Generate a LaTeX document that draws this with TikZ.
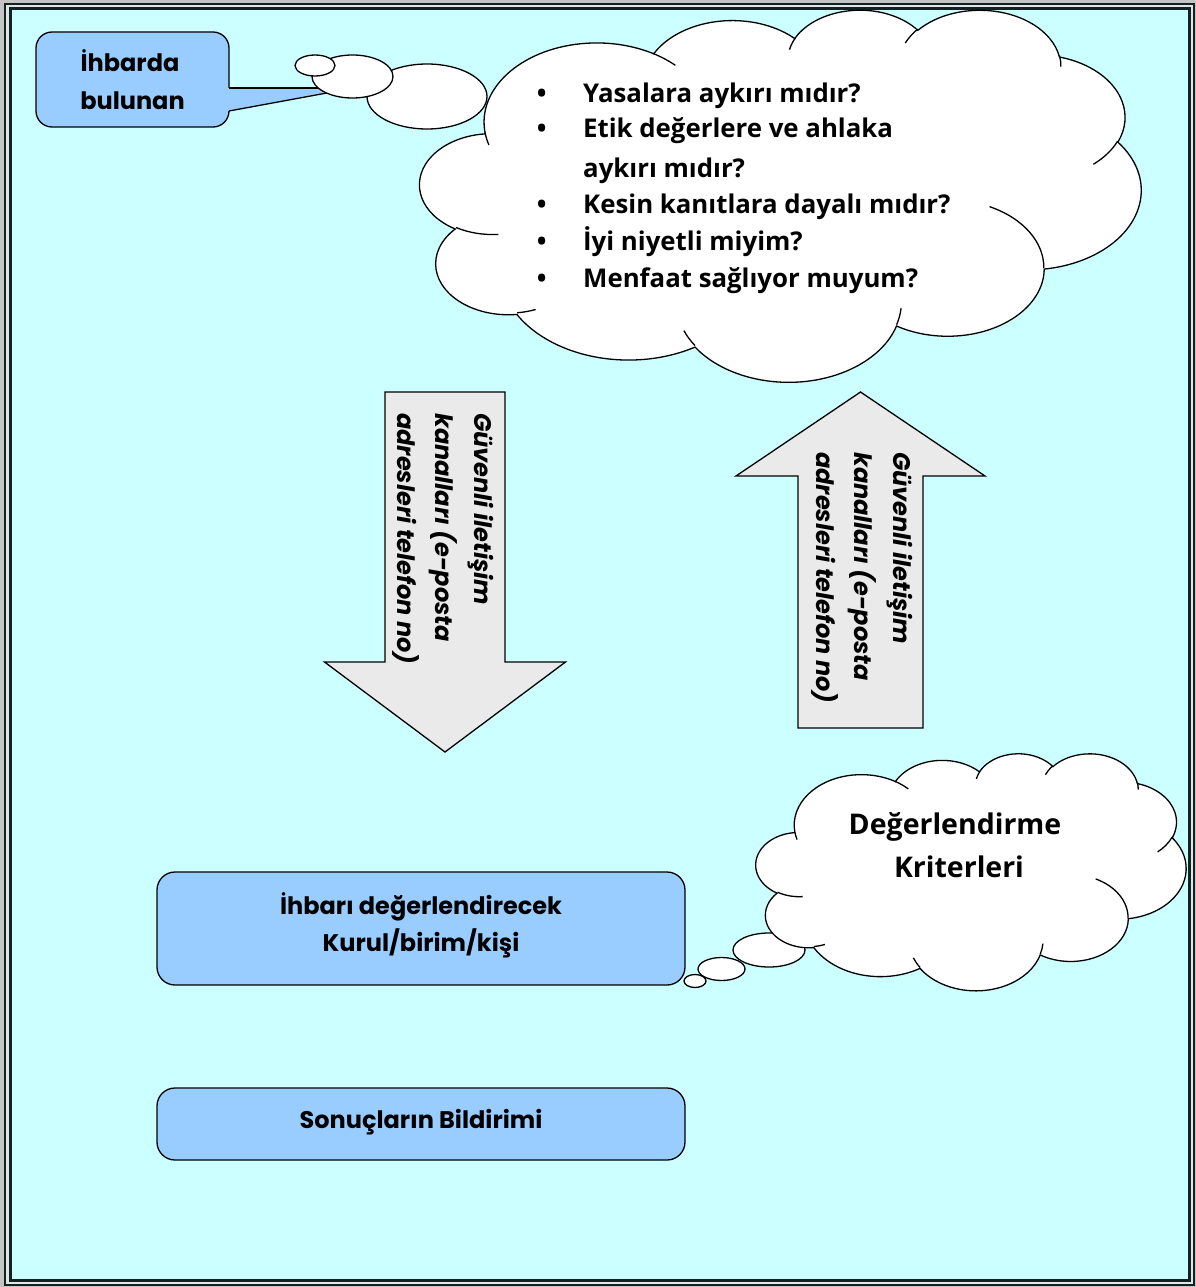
\documentclass[tikz,border=0pt]{standalone}
\usepackage{fontspec}
\setmainfont{Poppins}
\newfontfamily\comicf{Open Sans}
\definecolor{bgcyan}{HTML}{CCFFFF}
\definecolor{boxblue}{HTML}{99CCFF}
\definecolor{arrowgray}{HTML}{EAEAEA}
\definecolor{framedark}{HTML}{102222}
\definecolor{outergray}{HTML}{C4C4C4}
\definecolor{gapgray}{HTML}{E4E4E4}

% convert a DrawingML arcTo (visual angles) to TikZ parametric angles
\newcommand\cvtarc[5]{%
  \pgfmathparse{atan2((#2)*sin(#4),(#3)*cos(#4))}\let\tmpS\pgfmathresult
  \pgfmathparse{atan2((#2)*sin((#4)+(#5)),(#3)*cos((#4)+(#5)))}\let\tmpE\pgfmathresult
  \pgfmathparse{\tmpE-\tmpS}\let\tmpD\pgfmathresult
  \pgfmathparse{((#5)>0)&&(\tmpD<0)?\tmpD+360:((((#5)<0)&&(\tmpD>0))?\tmpD-360:\tmpD)}\let\tmpD\pgfmathresult
  \expandafter\xdef\csname ca#1s\endcsname{\tmpS}%
  \expandafter\xdef\csname ca#1d\endcsname{\tmpD}%
}

\newcommand\mscloud[4]{%
  \pgfmathsetmacro\cux{#3/4320}%
  \pgfmathsetmacro\cuy{#4/4320}%
  \begin{scope}[shift={(#1,#2)}, x=\cux pt, y=-\cuy pt]
    \path[cloudline] (390,1437)
      arc[start angle=\caAs, delta angle=\caAd, x radius=675.3, y radius=919.0]
      arc[start angle=\caBs, delta angle=\caBd, x radius=533.3, y radius=726.7]
      arc[start angle=\caCs, delta angle=\caCd, x radius=436.5, y radius=594.5]
      arc[start angle=\caDs, delta angle=\caDd, x radius=485.7, y radius=659.5]
      arc[start angle=\caEs, delta angle=\caEd, x radius=533.3, y radius=727.3]
      arc[start angle=\caFs, delta angle=\caFd, x radius=677.5, y radius=922.0]
      arc[start angle=\caGs, delta angle=\caGd, x radius=578.5, y radius=786.7]
      arc[start angle=\caHs, delta angle=\caHd, x radius=675.2, y radius=921.5]
      arc[start angle=\caIs, delta angle=\caId, x radius=772.0, y radius=1054.3]
      arc[start angle=\caJs, delta angle=\caJd, x radius=436.0, y radius=591.8]
      arc[start angle=\caKs, delta angle=\caKd, x radius=434.5, y radius=594.5]
      -- cycle;
    \draw[innerarc] (469.3,2617.7) arc[start angle=\caias, delta angle=\caiad, x radius=434.5, y radius=594.5];
    \draw[innerarc] (692.8,3489.9) arc[start angle=\caibs, delta angle=\caibd, x radius=436.0, y radius=591.8];
    \draw[innerarc] (1647.8,3909.0) arc[start angle=\caics, delta angle=\caicd, x radius=675.2, y radius=921.5];
    \draw[innerarc] (2882.7,3475.1) arc[start angle=\caids, delta angle=\caidd, x radius=675.2, y radius=921.5];
    \draw[innerarc] (3412.9,2295.4) arc[start angle=\caies, delta angle=\caied, x radius=578.5, y radius=786.7];
    \draw[innerarc] (4179.8,1535.4) arc[start angle=\caifs, delta angle=\caifd, x radius=533.3, y radius=727.3];
    \draw[innerarc] (3832.4,542.6) arc[start angle=\caigs, delta angle=\caigd, x radius=485.7, y radius=659.5];
    \draw[innerarc] (2907.8,395.2) arc[start angle=\caihs, delta angle=\caihd, x radius=485.7, y radius=659.5];
    \draw[innerarc] (2214.1,472.0) arc[start angle=\caiis, delta angle=\caiid, x radius=436.5, y radius=594.5];
    \draw[innerarc] (1400.0,519.2) arc[start angle=\caijs, delta angle=\caijd, x radius=675.3, y radius=919.0];
    \draw[innerarc] (412.7,1578.9) arc[start angle=\caiks, delta angle=\caikd, x radius=675.3, y radius=919.0];
  \end{scope}}

\begin{document}
\cvtarc{A}{675.3}{919.0}{-190.48748}{123.78053}
\cvtarc{B}{533.3}{726.7}{-144.10238}{89.94523}
\cvtarc{C}{436.5}{594.5}{-145.80792}{99.72302}
\cvtarc{D}{485.7}{659.5}{-130.98607}{117.24173}
\cvtarc{E}{533.3}{727.3}{-78.70888}{109.02692}
\cvtarc{F}{677.5}{922.0}{-46.26725}{130.26900}
\cvtarc{G}{578.5}{786.7}{0.62502}{114.03333}
\cvtarc{H}{675.2}{921.5}{22.45160}{115.17255}
\cvtarc{I}{772.0}{1054.3}{66.24263}{75.71102}
\cvtarc{J}{436.0}{591.8}{-274.94208}{146.73557}
\cvtarc{K}{434.5}{594.5}{-246.82850}{152.51885}
\cvtarc{ia}{434.5}{594.5}{86.74200}{26.42950}
\cvtarc{ib}{436.0}{591.8}{73.61047}{11.44747}
\cvtarc{ic}{675.2}{921.5}{137.62415}{14.08110}
\cvtarc{id}{675.2}{921.5}{6.45327}{15.99835}
\cvtarc{ie}{578.5}{786.7}{-70.29235}{70.91737}
\cvtarc{if}{533.3}{727.3}{30.31803}{27.75150}
\cvtarc{ig}{485.7}{659.5}{-13.74433}{14.85890}
\cvtarc{ih}{485.7}{659.5}{-149.18145}{18.19537}
\cvtarc{ii}{436.5}{594.5}{-163.49427}{17.68635}
\cvtarc{ij}{675.3}{919.0}{-66.70695}{12.31935}
\cvtarc{ik}{675.3}{919.0}{157.65435}{11.85817}
\begin{tikzpicture}[x=1pt,y=-1pt,
  bluebox/.style={draw=black, fill=boxblue, line width=1.3pt, rounded corners=18pt, inner sep=0pt},
  bubble/.style={draw=black, fill=white, line width=1.3pt},
  cloudline/.style={draw=black, fill=white, line width=1.3pt},
  innerarc/.style={draw=black, line width=1.3pt},
  bigarrow/.style={draw=black, fill=arrowgray, line width=1.3pt, line join=miter},
  gothicbig/.style={font=\fontsize{24}{28}\selectfont\bfseries, inner sep=0pt},
  gothic/.style={font=\fontsize{24}{28}\selectfont\bfseries, inner sep=0pt},
  arrowtext/.style={font=\fontsize{24}{28}\selectfont\bfseries\itshape, inner sep=0pt, rotate=-90, anchor=base west},
  cloudtext/.style={font=\comicf\fontsize{25.8}{31}\selectfont\bfseries, inner sep=0pt},
  cloudbig/.style={font=\comicf\fontsize{28.5}{34}\selectfont\bfseries, inner sep=0pt}
]
\useasboundingbox (0,0) rectangle (1196,1287);
% frame
\fill[outergray] (0,0) rectangle (1196,1287);
\filldraw[fill=gapgray, draw=framedark, line width=2pt] (5,4) rectangle (1194,1285);
\filldraw[fill=bgcyan, draw=framedark, line width=3pt] (10.5,8.5) rectangle (1189.5,1280.5);

% reporter callout
\node[bluebox, rounded corners=16pt, minimum width=193pt, minimum height=95pt] (reporter) at (132.5,79.5) {};
\fill[boxblue] (227,88) rectangle (230.5,111);
\fill[boxblue] (229,88) -- (354,88) -- (229,111) -- cycle;
\draw[line width=1.3pt] (229,88) -- (354,88);
\draw[line width=1.3pt] (229,111) -- (354,88);
\node[gothicbig, anchor=base] (rep1) at (130,72) {İhbarda};
\node[gothicbig, anchor=base] (rep2) at (132.5,110) {bulunan};

% big thought cloud
\draw[bubble] (427,96.5) ellipse [x radius=60, y radius=32.5];
\draw[bubble] (352.5,76.5) ellipse [x radius=40.5, y radius=21.5];
\draw[bubble] (315,65.5) ellipse [x radius=20, y radius=10.5];
\mscloud{420}{9}{721}{372}
\node[cloudtext, anchor=base] (b1) at (541.7,103) {•};
\node[cloudtext, anchor=base west] (q1) at (583,103) {Yasalara aykırı mıdır?};
\node[cloudtext, anchor=base] (b2) at (541.7,138) {•};
\node[cloudtext, anchor=base west] (q2) at (583,138) {Etik değerlere ve ahlaka};
\node[cloudtext, anchor=base west] (q2b) at (583,177) {aykırı mıdır?};
\node[cloudtext, anchor=base] (b3) at (541.7,213) {•};
\node[cloudtext, anchor=base west] (q3) at (583,213) {Kesin kanıtlara dayalı mıdır?};
\node[cloudtext, anchor=base] (b4) at (541.7,250) {•};
\node[cloudtext, anchor=base west] (q4) at (583,250) {İyi niyetli miyim?};
\node[cloudtext, anchor=base] (b5) at (541.7,287) {•};
\node[cloudtext, anchor=base west] (q5) at (583,287) {Menfaat sağlıyor muyum?};

% arrows
\draw[bigarrow] (385,392) -- (505,392) -- (505,662) -- (565.5,662) -- (445,752) -- (324.5,662) -- (385,662) -- cycle;
\node[arrowtext] (d1) at (474,413) {Güvenli iletişim};
\node[arrowtext] (d2) at (435.5,413) {kanalları (e-posta};
\node[arrowtext] (d3) at (397,413) {adresleri telefon no)};

\draw[bigarrow] (860.5,392) -- (985,476) -- (923,476) -- (923,728) -- (798,728) -- (798,476) -- (736,476) -- cycle;
\node[arrowtext] (u1) at (893,452) {Güvenli iletişim};
\node[arrowtext] (u2) at (854.5,452) {kanalları (e-posta};
\node[arrowtext] (u3) at (816,452) {adresleri telefon no)};

% boxes
\node[bluebox, minimum width=528pt, minimum height=113pt] (evaluator) at (421,928.5) {};
\node[gothic, anchor=base] (ev1) at (421,914) {İhbarı değerlendirecek};
\node[gothic, anchor=base] (ev2) at (421,951) {Kurul/birim/kişi};
\node[bluebox, minimum width=528pt, minimum height=72pt] (result) at (421,1124) {};
\node[gothic, anchor=base] (res1) at (421,1128) {Sonuçların Bildirimi};

% small thought cloud
\draw[bubble] (769,950) ellipse [x radius=36, y radius=17];
\draw[bubble] (721.5,969) ellipse [x radius=23.5, y radius=11.5];
\draw[bubble] (695,981) ellipse [x radius=11, y radius=6.5];
\mscloud{756}{753}{430}{237}
\node[cloudbig, anchor=base] (crit1) at (955,834) {Değerlendirme};
\node[cloudbig, anchor=base] (crit2) at (959,877) {Kriterleri};
\end{tikzpicture}
\end{document}
